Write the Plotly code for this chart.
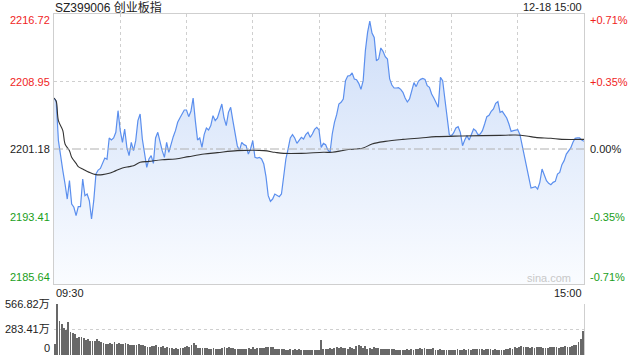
import plotly.graph_objects as go

title_text = "SZ399006 创业板指"
date_text = "12-18 15:00"
prev_close = 2201.18
y_ticks = [2216.72, 2208.95, 2201.18, 2193.41, 2185.64]
pct_ticks = ["+0.71%", "+0.35%", "0.00%", "-0.35%", "-0.71%"]
vol_ticks = [0, 283.41, 566.82]
vol_tick_text = ["0", "283.41万", "566.82万"]
time_labels = ["09:30", "15:00"]

# minute-by-minute index price (09:30 .. 11:30, 13:00 .. 15:00)
price = [
    2207.05, 2206.67, 2202.14, 2200.22, 2198.69, 2197.15, 2195.42, 2197.54, 2194.85, 2194.47,
    2193.51, 2194.54, 2194.54, 2197.73, 2195.81, 2196.00, 2195.23, 2193.12, 2195.23, 2198.30,
    2198.76, 2198.95, 2199.45, 2200.14, 2199.99, 2202.45, 2202.22, 2202.45, 2203.10, 2205.59,
    2203.29, 2201.95, 2203.48, 2201.37, 2200.41, 2201.95, 2200.99, 2202.14, 2204.44, 2205.21,
    2202.33, 2200.60, 2199.07, 2200.03, 2200.41, 2199.53, 2202.45, 2203.10, 2201.95, 2200.99,
    2200.22, 2201.95, 2200.80, 2201.76, 2202.60, 2203.29, 2204.25, 2204.75, 2205.21, 2205.67,
    2205.67, 2204.90, 2205.52, 2207.05, 2204.44, 2202.22, 2202.45, 2201.37, 2202.83, 2203.60,
    2203.37, 2203.87, 2205.02, 2204.44, 2204.75, 2205.59, 2206.36, 2204.75, 2203.87, 2205.40,
    2205.98, 2204.44, 2202.72, 2201.56, 2200.99, 2201.95, 2201.68, 2201.56, 2200.60, 2201.18,
    2202.14, 2200.22, 2200.14, 2200.22, 2200.03, 2199.45, 2198.00, 2195.81, 2195.16, 2195.42,
    2196.00, 2195.81, 2195.69, 2196.00, 2197.92, 2200.03, 2201.18, 2202.45, 2202.83, 2202.45,
    2201.83, 2202.22, 2202.52, 2202.33, 2202.83, 2203.10, 2202.52, 2202.91, 2203.44, 2203.67,
    2203.37, 2201.37, 2201.83, 2201.68, 2201.07, 2200.80, 2202.91, 2204.25, 2205.13, 2206.36,
    2206.55, 2206.94, 2209.05, 2209.58, 2209.62, 2209.93, 2209.24, 2209.16, 2208.74, 2208.05,
    2209.05, 2212.50, 2214.61, 2215.90, 2214.53, 2214.03, 2211.35, 2211.54, 2212.81, 2212.42,
    2211.81, 2211.54, 2209.24, 2208.55, 2208.20, 2208.20, 2208.24, 2208.05, 2207.70, 2207.05,
    2206.59, 2206.94, 2207.82, 2208.82, 2208.36, 2208.97, 2209.20, 2209.31, 2209.20, 2208.47,
    2208.28, 2207.51, 2207.05, 2206.44, 2205.98, 2209.43, 2209.05, 2206.94, 2204.63, 2202.83,
    2202.68, 2203.06, 2203.60, 2203.75, 2203.10, 2201.56, 2202.22, 2202.72, 2202.22, 2202.83,
    2203.48, 2203.29, 2202.83, 2202.91, 2203.29, 2204.06, 2204.90, 2205.06, 2205.52, 2205.79,
    2206.44, 2206.63, 2205.40, 2205.52, 2205.09, 2204.75, 2204.06, 2203.21, 2203.29, 2203.37,
    2203.41, 2202.83, 2201.56, 2200.03, 2199.15, 2197.92, 2196.69, 2196.77, 2196.84, 2196.57,
    2197.34, 2198.88, 2198.23, 2197.54, 2197.23, 2197.07, 2197.34, 2197.46, 2198.30, 2198.49,
    2199.38, 2199.84, 2200.60, 2200.91, 2201.30, 2201.95, 2202.41, 2202.45, 2202.45, 2202.22,
    2202.06,
]

# average price line, read at selected minutes
avg_minute = [0, 1, 2, 4, 5, 7, 8, 10, 11, 13, 16, 19, 22, 25, 28, 31, 34, 36, 39, 43, 49, 55,
              61, 68, 74, 83, 95, 100, 104, 112, 122, 126, 132, 140, 144, 150, 158, 166, 173,
              184, 194, 202, 209, 214, 218, 225, 230, 240]
avg_price = [2207.05, 2206.67, 2204.44, 2203.29, 2201.76, 2200.99, 2200.22, 2199.53, 2199.15,
             2198.88, 2198.49, 2198.23, 2198.23, 2198.38, 2198.69, 2198.99, 2199.15, 2199.26,
             2199.65, 2199.76, 2199.95, 2200.03, 2200.30, 2200.60, 2200.76, 2200.99, 2200.99,
             2200.80, 2200.68, 2200.68, 2200.80, 2200.80, 2201.07, 2201.30, 2201.76, 2202.06,
             2202.29, 2202.45, 2202.60, 2202.68, 2202.72, 2202.75, 2202.79, 2202.68, 2202.52,
             2202.41, 2202.29, 2202.29]

# volume per minute (万)
volume = [
    123, 567, 380, 347, 298, 280, 362, 257, 250, 231, 194, 205, 201, 186, 168, 183, 160, 160, 157, 179,
    160, 149, 138, 127, 127, 138, 127, 145, 123, 131, 123, 123, 131, 123, 116, 116, 108, 112, 123, 108,
    108, 97, 93, 93, 101, 97, 108, 93, 93, 104, 78, 86, 82, 78, 71, 78, 71, 78, 82, 86,
    101, 89, 108, 138, 108, 75, 78, 78, 75, 78, 71, 71, 78, 71, 67, 67, 82, 86, 78, 86,
    78, 78, 71, 71, 71, 71, 63, 71, 78, 67, 86, 71, 75, 82, 82, 75, 89, 93, 89, 89,
    71, 63, 67, 67, 71, 60, 60, 67, 60, 63, 60, 63, 56, 56, 56, 56, 56, 52, 56, 56,
    52, 168, 63, 63, 67, 82, 71, 78, 86, 78, 86, 82, 82, 71, 86, 78, 71, 101, 108, 101,
    78, 97, 71, 82, 71, 86, 75, 82, 71, 67, 71, 63, 67, 63, 63, 56, 56, 56, 60, 60,
    63, 56, 63, 60, 67, 63, 78, 71, 82, 71, 63, 67, 78, 60, 56, 67, 60, 56, 56, 60,
    56, 52, 56, 63, 56, 56, 67, 60, 63, 60, 71, 63, 71, 63, 71, 60, 67, 63, 67, 60,
    63, 60, 56, 56, 60, 71, 67, 75, 71, 86, 82, 86, 101, 93, 86, 93, 82, 86, 82, 89,
    86, 86, 78, 82, 78, 86, 93, 86, 93, 78, 89, 86, 97, 93, 86, 101, 108, 116, 149, 179,
    268,
]

minutes = list(range(len(price)))
y_lo, y_hi = y_ticks[-1], y_ticks[0]

RED = "#f01e1e"
GREEN = "#1a9e1a"
GRID = "#cfcfcf"
FONT = "Arial, Liberation Sans, Noto Sans CJK SC, sans-serif"

fig = go.Figure()

fig.add_trace(go.Scatter(x=minutes, y=[y_lo] * len(minutes), mode="lines",
                         line=dict(width=0), hoverinfo="skip", showlegend=False,
                         xaxis="x", yaxis="y"))
fig.add_trace(go.Scatter(
    x=minutes, y=price, mode="lines", fill="tonexty",
    line=dict(color="#5b8fee", width=1.2),
    fillgradient=dict(type="vertical", start=y_lo, stop=y_hi,
                      colorscale=[[0, "rgba(250,252,255,1)"], [1, "rgba(205,221,248,1)"]]),
    showlegend=False, xaxis="x", yaxis="y"))
fig.add_trace(go.Scatter(x=avg_minute, y=avg_price, mode="lines",
                         line=dict(color="#333333", width=1.1, shape="spline"),
                         showlegend=False, xaxis="x", yaxis="y"))
fig.add_trace(go.Bar(x=minutes, y=volume, width=0.4, marker=dict(color="#686868", line=dict(width=0)),
                     showlegend=False, xaxis="x2", yaxis="y2"))

fig.add_shape(type="line", xref="x", yref="y", x0=0, x1=240, y0=prev_close, y1=prev_close,
              line=dict(color="#b0b0b0", width=1, dash="dashdot"), layer="above")

annotations = []
colors = [RED, RED, "#222222", GREEN, GREEN]
shifts = [-6, 0, 0, 0, 7]
for v, p, c, s in zip(y_ticks, pct_ticks, colors, shifts):
    annotations.append(dict(xref="paper", yref="y", x=0, y=v, xanchor="right", yanchor="middle",
                            xshift=-2, yshift=s, text=f"{v:.2f}", showarrow=False,
                            font=dict(color=c, size=11, family=FONT)))
    annotations.append(dict(xref="paper", yref="y", x=1, y=v, xanchor="left", yanchor="middle",
                            xshift=4, yshift=s, text=p, showarrow=False,
                            font=dict(color=c, size=11, family=FONT)))
vshift = [7, 0, 0]
for v, t, s in zip(vol_ticks, vol_tick_text, vshift):
    annotations.append(dict(xref="paper", yref="y2", x=0, y=v, xanchor="right", yanchor="middle",
                            xshift=-2, yshift=s, text=t, showarrow=False,
                            font=dict(color="#222222", size=11, family=FONT)))
annotations += [
    dict(xref="paper", yref="paper", x=0, y=1.0205, xanchor="left", yanchor="middle", xshift=-1,
         text=title_text, showarrow=False, font=dict(color="#222222", size=12, family=FONT)),
    dict(xref="paper", yref="paper", x=1, y=1.0205, xanchor="right", yanchor="middle",
         text=date_text, showarrow=False, font=dict(color="#222222", size=11, family=FONT)),
    dict(xref="paper", yref="paper", x=0, y=0.1818, xanchor="left", yanchor="middle", xshift=0,
         text=time_labels[0], showarrow=False, font=dict(color="#222222", size=11, family=FONT)),
    dict(xref="paper", yref="paper", x=1, y=0.1818, xanchor="right", yanchor="middle",
         text=time_labels[1], showarrow=False, font=dict(color="#222222", size=11, family=FONT)),
    dict(xref="paper", yref="y", x=1, y=y_lo, xanchor="right", yanchor="middle", xshift=-11, yshift=6,
         text="sina.com", showarrow=False, font=dict(color="#c8c8c8", size=11, family=FONT)),
]

fig.update_layout(
    width=640, height=360,
    margin=dict(l=54, r=56, t=14, b=5),
    paper_bgcolor="white", plot_bgcolor="rgba(0,0,0,0)",
    bargap=0,
    xaxis=dict(domain=[0, 1], range=[0, 240], anchor="y", showticklabels=False, ticks="",
               showgrid=True, dtick=30, tick0=0, gridcolor=GRID, griddash="dot", gridwidth=1,
               showline=True, mirror=True, linecolor=GRID, linewidth=1, zeroline=False),
    yaxis=dict(domain=[0.2082, 1], range=[y_lo, y_hi], anchor="x", showticklabels=False, ticks="",
               tickmode="array", tickvals=[y_ticks[1], y_ticks[3]], showgrid=True,
               gridcolor=GRID, griddash="dot", gridwidth=1,
               showline=True, mirror=True, linecolor=GRID, linewidth=1, zeroline=False),
    xaxis2=dict(domain=[0, 1], range=[-0.5, 240.5], anchor="y2", showticklabels=False, ticks="",
                showgrid=False, showline=False, zeroline=False),
    yaxis2=dict(domain=[0, 0.1496], range=[0, 566.82], anchor="x2", side="right",
                showticklabels=False, ticks="", tickmode="array", tickvals=[283.41, 566.82],
                showgrid=True, gridcolor=GRID, griddash="dot", gridwidth=1,
                showline=True, linecolor=GRID, linewidth=1, zeroline=False),
    annotations=annotations,
)

fig.write_html("out.html", config={"displayModeBar": False},
               post_script="document.body.style.margin='0';document.body.style.overflow='hidden';")
